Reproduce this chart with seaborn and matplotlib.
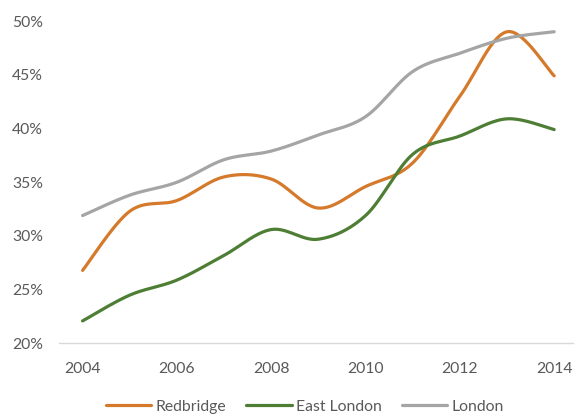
import numpy as np
import pandas as pd
import matplotlib
matplotlib.use("Agg")
import matplotlib.pyplot as plt
import seaborn as sns
from matplotlib.lines import Line2D
from matplotlib.ticker import FuncFormatter

years = [2004, 2005, 2006, 2007, 2008, 2009, 2010, 2011, 2012, 2013, 2014]
redbridge = [26.8, 32.3, 33.3, 35.5, 35.3, 32.6, 34.6, 36.8, 43.0, 49.0, 44.9]
east_london = [22.1, 24.5, 25.9, 28.2, 30.6, 29.7, 31.9, 37.6, 39.3, 40.9, 39.9]
london = [31.9, 33.8, 35.0, 37.1, 37.9, 39.4, 41.1, 45.3, 47.0, 48.4, 49.0]

series_names = ["Redbridge", "East London", "London"]
colors = ["#D5792B", "#4D7E34", "#A5A5A5"]
y_ticks = [20, 25, 30, 35, 40, 45, 50]
x_ticks = [2004, 2006, 2008, 2010, 2012, 2014]


def smooth(x, y, steps=30):
    """Catmull-Rom curve through the points (spreadsheet-style smoothed line)."""
    x = np.asarray(x, float)
    y = np.asarray(y, float)
    px = np.concatenate([[x[0]], x, [x[-1]]])
    py = np.concatenate([[y[0]], y, [y[-1]]])
    out_x, out_y = [], []
    t = np.linspace(0, 1, steps, endpoint=False)
    for i in range(1, len(px) - 2):
        for arr, out in ((px, out_x), (py, out_y)):
            p0, p1, p2, p3 = arr[i - 1], arr[i], arr[i + 1], arr[i + 2]
            out.extend(0.5 * ((2 * p1) + (-p0 + p2) * t
                              + (2 * p0 - 5 * p1 + 4 * p2 - p3) * t ** 2
                              + (-p0 + 3 * p1 - 3 * p2 + p3) * t ** 3))
    out_x.append(x[-1])
    out_y.append(y[-1])
    return np.array(out_x), np.array(out_y)


frames = []
for name, vals in zip(series_names, [redbridge, east_london, london]):
    sx, sy = smooth(years, vals)
    frames.append(pd.DataFrame({"year": sx, "value": sy, "series": name}))
df = pd.concat(frames, ignore_index=True)

sns.set_theme(style="white")
plt.rcParams["font.family"] = ["Lato", "DejaVu Sans"]
text_color = "#595959"

fig = plt.figure(figsize=(5.75, 4.16), dpi=100)
ax = fig.add_axes([0.1026, 0.1743, 0.894, 0.7752])

sns.lineplot(data=df, x="year", y="value", hue="series", hue_order=series_names,
             palette=colors, sort=False, estimator=None, linewidth=2.3,
             legend=False, ax=ax)
for line in ax.lines:
    line.set_solid_capstyle("round")
    line.set_clip_on(False)

ax.set_xlim(2003.5, 2014.4)
ax.set_ylim(20, 50)
ax.set_xticks(x_ticks)
ax.set_yticks(y_ticks)
ax.yaxis.set_major_formatter(FuncFormatter(lambda v, _: f"{v:.0f}%"))
ax.set_xlabel("")
ax.set_ylabel("")
ax.tick_params(axis="both", length=0, labelsize=11.3, colors=text_color)
ax.tick_params(axis="y", pad=11.5)
ax.tick_params(axis="x", pad=13.5)

for side in ["top", "left", "right"]:
    ax.spines[side].set_visible(False)
ax.spines["bottom"].set_color("#D9D9D9")
ax.spines["bottom"].set_linewidth(1.0)

handles = [Line2D([0], [0], color=c, lw=2.3, solid_capstyle="round") for c in colors]
fig.legend(handles, series_names, loc="center", bbox_to_anchor=(0.53, 0.022),
           ncol=3, frameon=False, fontsize=11.3, handlelength=2.9,
           handletextpad=0.25, columnspacing=1.3, labelcolor=text_color)

fig.savefig("out.png", dpi=100)
